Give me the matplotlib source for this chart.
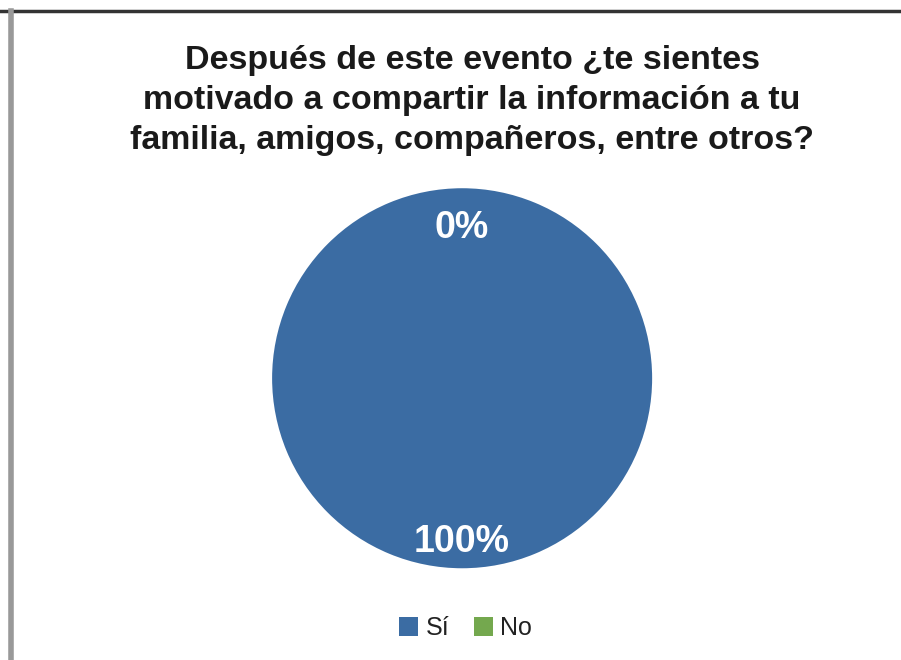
import matplotlib.pyplot as plt
from matplotlib.patches import Patch

# respuestas de la encuesta
categorias = ["Sí", "No"]
porcentajes = [100, 0]
colores = ["#3B6CA3", "#74A84E"]

titulo = ("Después de este evento ¿te sientes\n"
          "motivado a compartir la información a tu\n"
          "familia, amigos, compañeros, entre otros?")

plt.rcParams['font.family'] = ['Liberation Sans', 'DejaVu Sans']

fig = plt.figure(figsize=(9.01, 6.60), dpi=100)

# marco del grafico
fig.add_artist(plt.Line2D([0, 1], [0.984, 0.984], transform=fig.transFigure, color="#333333", lw=2.5))
fig.add_artist(plt.Line2D([0.012, 0.012], [0, 0.984], transform=fig.transFigure, color="#999999", lw=4))

fig.text(0.524, 0.848, titulo, ha="center", va="center", fontsize=24.5, fontweight="bold",
         color="#1a1a1a", linespacing=1.38)

ax = fig.add_axes([0.302, 0.139, 0.4218, 0.5758])
wedges, textos, autotextos = ax.pie(
    porcentajes, colors=colores, startangle=90, counterclock=True,
    autopct=lambda p: f"{p:.0f}%", pctdistance=0.83, radius=1.0,
    wedgeprops=dict(linewidth=0))
# distancia de cada etiqueta al centro
for t, d in zip(autotextos, [0.86, 0.79]):
    x, y = t.get_position()
    t.set_position((x * d / 0.83, y * d / 0.83))
    t.set_color("white")
    t.set_fontsize(27)
    t.set_fontweight("bold")
ax.set_xlim(-1, 1)
ax.set_ylim(-1, 1)
ax.set_aspect("equal")

handles = [Patch(facecolor=c, label=l) for c, l in zip(colores, categorias)]
fig.legend(handles=handles, loc="center", bbox_to_anchor=(0.517, 0.048), ncol=2, frameon=False,
           fontsize=18, handlelength=0.75, handleheight=0.75, handletextpad=0.3, columnspacing=1.0,
           labelcolor="#222222")

fig.savefig("out.png", dpi=100, facecolor="white")
